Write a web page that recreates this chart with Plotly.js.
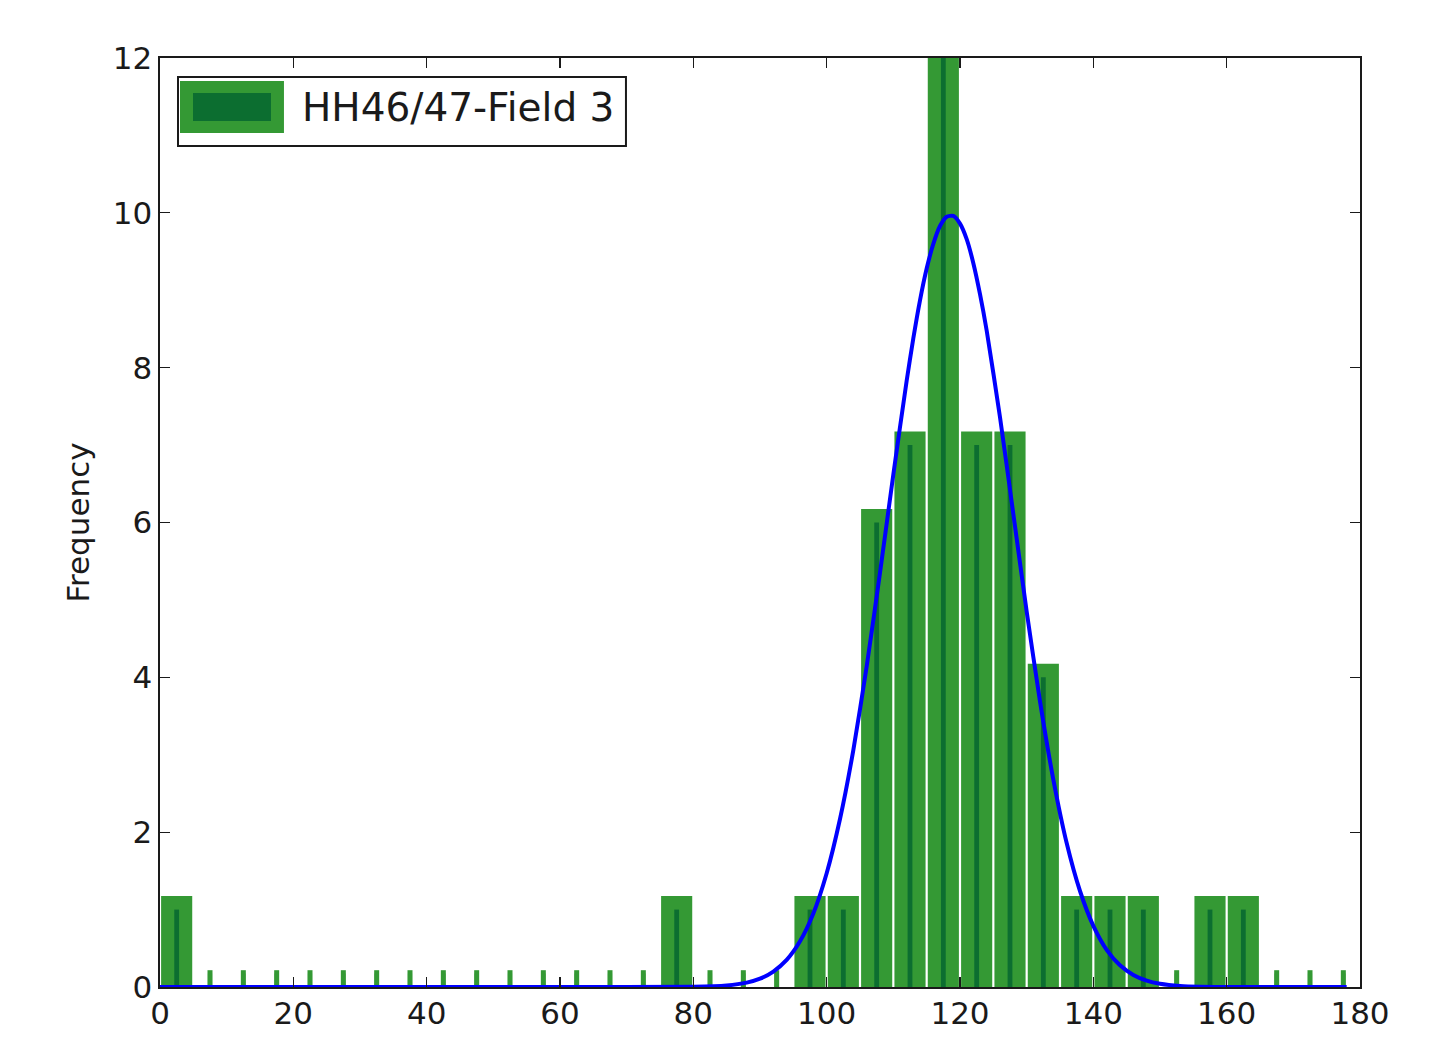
<!DOCTYPE html>
<html>
<head>
<meta charset="utf-8">
<script src="https://cdn.plot.ly/plotly-3.0.1.min.js"></script>
<style>
  html, body { margin: 0; padding: 0; background: #ffffff; }
  #chart { width: 1442px; height: 1043px; }
</style>
</head>
<body>
<div id="chart"></div>
<script>
// ---- data ----
const binCenters = [2.5, 7.5, 12.5, 17.5, 22.5, 27.5, 32.5, 37.5, 42.5, 47.5,
                    52.5, 57.5, 62.5, 67.5, 72.5, 77.5, 82.5, 87.5, 92.5, 97.5,
                    102.5, 107.5, 112.5, 117.5, 122.5, 127.5, 132.5, 137.5, 142.5, 147.5,
                    152.5, 157.5, 162.5, 167.5, 172.5, 177.5];
const counts = [1, 0, 0, 0, 0, 0, 0, 0, 0, 0,
                0, 0, 0, 0, 0, 1, 0, 0, 0, 1,
                1, 6, 7, 12, 7, 7, 4, 1, 1, 1,
                0, 1, 1, 0, 0, 0];
const fitX = [0, 20, 40, 60, 80, 85, 88, 90, 92, 94, 96, 98, 100, 102, 104, 106, 108,
              110, 112, 113, 114, 115, 116, 117, 118, 119, 120, 121, 122, 123, 124, 126, 128, 130, 132, 134,
              136, 138, 140, 142, 144, 146, 148, 150, 153, 156, 160, 170, 178];
const fitY = [0, 0, 0, 0, 0.003, 0.02, 0.056, 0.107, 0.2, 0.35, 0.59, 0.95, 1.47, 2.17, 3.06, 4.14, 5.35,
              6.62, 7.83, 8.38, 8.87, 9.28, 9.6, 9.83, 9.95, 9.96, 9.86, 9.66, 9.35, 8.95, 8.48, 7.36, 6.11, 4.85, 3.69, 2.68,
              1.86, 1.24, 0.79, 0.48, 0.28, 0.156, 0.083, 0.042, 0.013, 0.003, 0, 0, 0];
const seriesName = "HH46/47-Field 3";
const yTitle = "Frequency";
const xTicks = [0, 20, 40, 60, 80, 100, 120, 140, 160, 180];
const yTicks = [0, 2, 4, 6, 8, 10, 12];

// ---- styles ----
const GREEN = "rgb(52,153,52)";
const DARK = "rgb(12,110,48)";
const FONT = "DejaVu Sans, Liberation Sans, sans-serif";
const TXT = "#1a1a1a";

const zeroX = binCenters.filter((c, i) => counts[i] === 0);
const zeroY = zeroX.map(() => 0);

const traces = [
  {
    type: "bar", x: binCenters, y: counts, width: 0.62,
    marker: { color: GREEN, line: { color: GREEN, width: 27 } },
    hoverinfo: "skip", showlegend: false
  },
  {
    type: "bar", x: binCenters, y: counts, width: 0.72,
    marker: { color: DARK, line: { width: 0 } },
    name: seriesName, showlegend: false
  },
  {
    type: "scatter", mode: "markers", x: zeroX, y: zeroY,
    marker: { symbol: "line-ns", size: 24, color: GREEN, line: { color: GREEN, width: 5 } },
    hoverinfo: "skip", showlegend: false, cliponaxis: true
  },
  {
    type: "scatter", mode: "lines", x: fitX, y: fitY,
    line: { color: "rgb(0,0,255)", width: 4, shape: "spline", smoothing: 0.6 },
    showlegend: false
  }
];

const axisCommon = {
  showgrid: false, zeroline: false, showline: true, linecolor: "#1a1a1a", linewidth: 1.6,
  ticks: "inside", ticklen: 10, tickwidth: 1.2, tickcolor: "#1a1a1a", mirror: "allticks",
  tickfont: { family: FONT, size: 31, color: TXT }
};

const layout = {
  width: 1442, height: 1043,
  margin: { l: 160, r: 82, t: 58, b: 56 },
  paper_bgcolor: "#ffffff", plot_bgcolor: "#ffffff",
  barmode: "overlay",
  showlegend: false,
  font: { family: FONT, color: TXT },
  xaxis: Object.assign({}, axisCommon, {
    range: [0, 180], tickmode: "array", tickvals: xTicks, ticktext: xTicks.map(String),
    ticklabelstandoff: -2
  }),
  yaxis: Object.assign({}, axisCommon, {
    range: [0, 12], tickmode: "array", tickvals: yTicks, ticktext: yTicks.map(String),
    automargin: true,
    title: { text: yTitle, font: { family: FONT, size: 31, color: TXT }, standoff: 14 }
  }),
  shapes: [
    { type: "rect", xref: "paper", yref: "paper", x0: 0.015, x1: 0.3883, y0: 0.9053, y1: 0.9795,
      line: { color: "#1a1a1a", width: 2 }, fillcolor: "#ffffff", layer: "above" },
    { type: "rect", xref: "paper", yref: "paper", x0: 0.01667, x1: 0.1033, y0: 0.9193, y1: 0.9752,
      line: { width: 0 }, fillcolor: GREEN, layer: "above" },
    { type: "rect", xref: "paper", yref: "paper", x0: 0.0275, x1: 0.0925, y0: 0.9322, y1: 0.9623,
      line: { width: 0 }, fillcolor: DARK, layer: "above" }
  ],
  annotations: [
    { xref: "paper", yref: "paper", x: 0.1165, y: 0.9462, xanchor: "left", yanchor: "middle",
      text: seriesName, showarrow: false, font: { family: FONT, size: 39, color: TXT } }
  ]
};

Plotly.newPlot("chart", traces, layout, { displayModeBar: false, staticPlot: true });
</script>
</body>
</html>
